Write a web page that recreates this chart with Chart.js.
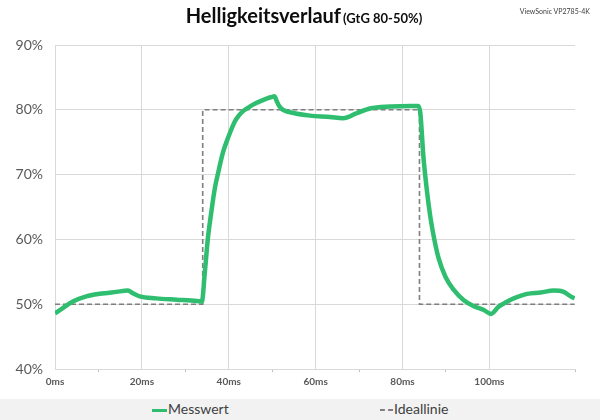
<!DOCTYPE html>
<html>
<head>
<meta charset="utf-8">
<script src="https://cdn.jsdelivr.net/npm/chart.js@4.4.0/dist/chart.umd.min.js"></script>
<style>
  html, body { margin: 0; padding: 0; background: #fff; }
  #wrap { position: relative; width: 600px; height: 420px; background: #fff; font-family: Lato, sans-serif; overflow: hidden; }
  #title { position: absolute; top: 3px; left: 4px; width: 600px; text-align: center; color: #0d0d0d; font-weight: bold; white-space: nowrap; }
  #title .main { font-size: 20px; }
  #title .sub { font-size: 13px; margin-left: 2px; }
  #brand { position: absolute; top: 7px; right: 10px; font-size: 7px; color: #404040; }
  #plot { position: absolute; left: 0; top: 0; }
  #legend { position: absolute; left: 0; top: 399px; width: 600px; height: 21px; background: #f2f2f2; color: #404040; font-size: 14px; }
  .item { position: absolute; top: 1px; line-height: 18px; white-space: nowrap; }
  .swatch { display: inline-block; width: 15px; vertical-align: middle; margin-right: 1px; }
</style>
</head>
<body>
<div id="wrap">
  <canvas id="plot" width="600" height="399"></canvas>
  <div id="title"><span class="main">Helligkeitsverlauf</span><span class="sub">(GtG 80-50%)</span></div>
  <div id="brand">ViewSonic VP2785-4K</div>
  <div id="legend">
    <div class="item" style="left:152px"><span class="swatch" style="border-top:3px solid #2fbe6f"></span>Messwert</div>
    <div class="item" style="left:380px"><span class="swatch" style="border-top:2px dashed #7f7f7f;width:13px"></span>Ideallinie</div>
  </div>
</div>
<script>
// Messwert (ms / %)
var msTimes = [0, 1.8, 4.1, 7.2, 10.3, 14.1, 16.8, 17.9, 19.5, 23.3, 28, 32.6, 33.8,
  34.5, 35.2, 36.0, 36.8, 37.6, 38.7, 39.9, 41.4, 42.3, 43.3, 44.4, 45.6, 47.9, 49.0, 50.0, 50.5, 51.0,
  51.6, 52.5, 54.9, 58.7, 63.3, 66.3, 69.5, 72.5, 77.2, 81.8, 83.6,
  84.1, 84.8, 85.6, 86.4, 87.2, 88.3, 89.9, 91.8, 94.1, 96.4, 98.7, 100.4,
  102.1, 103.8, 105.6, 108.7, 111.8, 114.8, 117.1, 118.7, 119.6];
var messwert = [48.6, 49.4, 50.4, 51.2, 51.6, 51.9, 52.1, 51.7, 51.2, 50.9, 50.7, 50.5, 50.4,
  55.0, 60.2, 64.3, 67.9, 70.4, 73.5, 75.8, 78.2, 79.1, 79.8, 80.3, 80.8, 81.5, 81.8, 82.0, 82.1, 81.4,
  80.6, 80.0, 79.5, 79.1, 78.9, 78.7, 79.5, 80.2, 80.5, 80.6, 80.6,
  79.5, 72.8, 67.6, 63.5, 60.4, 57.1, 54.2, 52.2, 50.6, 49.7, 49.1, 48.5,
  49.6, 50.3, 50.9, 51.6, 51.8, 52.1, 51.9, 51.2, 50.9];

// Ideallinie
var idealTimes = [0, 34.0, 34.0, 83.9, 83.9, 119.6];
var idealValues = [50, 50, 80, 80, 50, 50];

var yTicks = [40, 50, 60, 70, 80, 90];

function pts(xs, ys) {
  var out = [];
  for (var i = 0; i < xs.length; i++) out.push({x: xs[i], y: ys[i]});
  return out;
}

Chart.defaults.font.family = 'Lato, sans-serif';

var ctx = document.getElementById('plot').getContext('2d');
var chart = new Chart(ctx, {
  type: 'line',
  data: {
    datasets: [{
      label: 'Messwert',
      data: pts(msTimes, messwert),
      borderColor: '#2fbe6f',
      borderWidth: 4.5,
      pointRadius: 0,
      cubicInterpolationMode: 'monotone',
      fill: false
    }, {
      label: 'Ideallinie',
      data: pts(idealTimes, idealValues),
      borderColor: '#7f7f7f',
      borderWidth: 1.6,
      borderDash: [5, 3],
      pointRadius: 0,
      tension: 0,
      fill: false
    }]
  },
  options: {
    responsive: false,
    animation: false,
    layout: { padding: { top: 45, right: 25, left: 0, bottom: 0 } },
    plugins: { legend: { display: false }, title: { display: false }, tooltip: { enabled: false } },
    scales: {
      x: {
        type: 'linear',
        min: 0,
        max: 119.7,
        afterFit: function(s) { s.height = 30; },
        border: { color: '#d9d9d9' },
        grid: {
          color: function(c) { return (c.tick && c.tick.value % 20 === 0) ? '#d9d9d9' : 'rgba(0,0,0,0)'; },
          tickColor: function(c) { return (c.tick && c.tick.value % 20 === 0) ? 'rgba(0,0,0,0)' : '#bfbfbf'; },
          tickLength: 3
        },
        ticks: {
          stepSize: 10,
          autoSkip: false,
          maxRotation: 0,
          padding: 4,
          color: '#595959',
          font: { size: 10, weight: 'bold' },
          callback: function(v) { return v % 20 === 0 ? v + 'ms' : ''; }
        }
      },
      y: {
        min: 40,
        max: 90,
        afterFit: function(s) { s.width = 55; },
        afterBuildTicks: function(s) { s.ticks = yTicks.map(function(v) { return {value: v}; }); },
        border: { display: false },
        grid: { color: '#d9d9d9', drawTicks: false },
        ticks: {
          padding: 12,
          color: '#595959',
          font: { size: 14 },
          callback: function(v) { return v + '%'; }
        }
      }
    }
  }
});
</script>
</body>
</html>
